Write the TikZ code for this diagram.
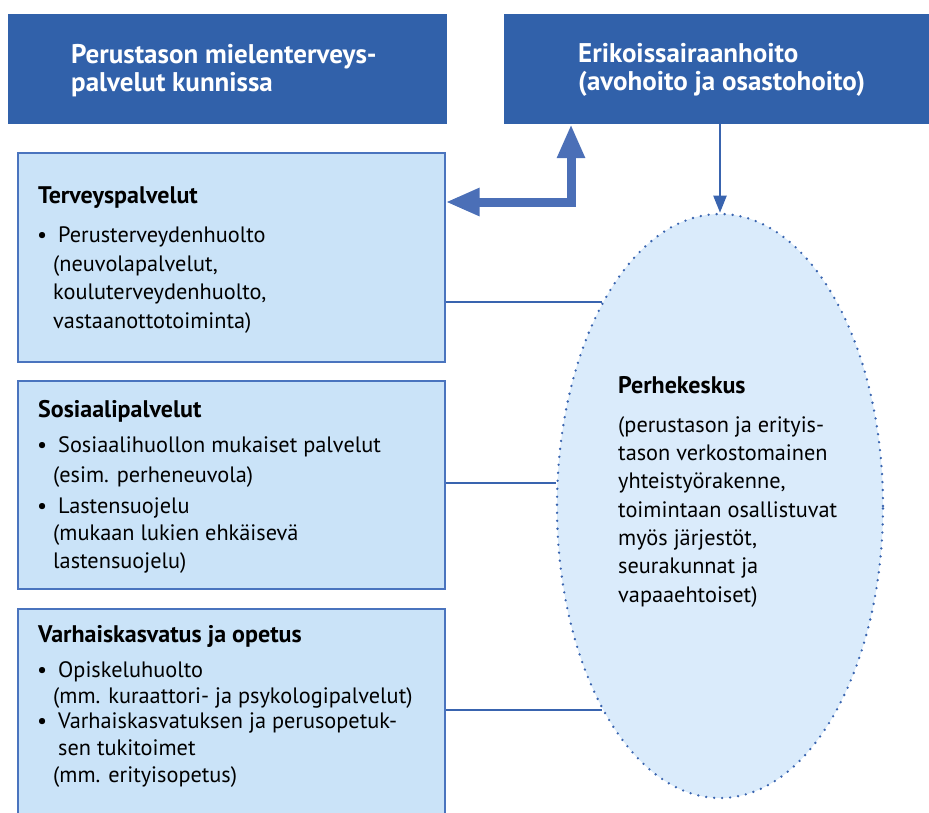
\documentclass[tikz,border=0pt]{standalone}
\usepackage{fontspec}
\setmainfont{PT Sans}
\usetikzlibrary{shapes.geometric,arrows.meta,positioning,calc}

\definecolor{darkblue}{HTML}{3161AA}
\definecolor{boxfill}{HTML}{CAE3F8}
\definecolor{boxline}{HTML}{4A74BE}
\definecolor{ellfill}{HTML}{DAEBFB}
\definecolor{arrowblue}{HTML}{4B6FB7}
\definecolor{linkblue}{HTML}{3964AF}

\newcommand{\bul}{\llap{\textbullet\hspace{6pt}}\hspace{5pt}}

\begin{document}
\begin{tikzpicture}[x=1pt, y=-1pt,
  headbox/.style={fill=darkblue, minimum height=110pt, inner sep=0pt},
  service/.style={draw=boxline, line width=1.2pt, fill=boxfill, minimum width=427pt, inner sep=0pt},
  headtxt/.style={anchor=base west, align=left, inner sep=0pt, text=white, font=\fontsize{27}{28}\selectfont\bfseries},
  boxhead/.style={anchor=base west, inner sep=0pt, font=\fontsize{24}{28}\selectfont\bfseries},
  boxitem/.style={anchor=base west, align=left, inner sep=0pt, font=\fontsize{22.3}{28.5}\selectfont},
  joinline/.style={draw=linkblue, line width=2.5pt},
  bigarrow/.style={draw=arrowblue, line width=9pt, line join=miter, {Triangle[length=34pt,width=26pt]}-{Triangle[length=34pt,width=26pt]}},
  thinarrow/.style={draw=linkblue, line width=2.2pt, -{Triangle[length=17pt,width=13pt]}}]
  \useasboundingbox (0,0) rectangle (929,812);

  % top level (base = last line)
  \node[headbox, minimum width=439pt] (perus) at (227.5,69) {};
  \node[headbox, minimum width=432pt] (erik) at (720,69) {};
  \node[headtxt] (perustxt) at (71,91) {Perustason mielenterveys-\\palvelut kunnissa};
  \node[headtxt] (eriktxt) at (578,90) {Erikoissairaanhoito\\(avohoito ja osastohoito)};

  % service boxes
  \node[service, minimum height=209pt] (terv) at (231.5,257.5) {};
  \node[service, minimum height=208pt] (sos) at (231.5,485) {};
  \node[service, minimum height=211pt] (varh) at (231.5,714.5) {};

  \node[ellipse, draw=linkblue, fill=ellfill, line width=2.6pt, dash pattern=on 0pt off 8pt, line cap=round,
        minimum width=326pt, minimum height=584pt, inner sep=0pt] (perhe) at (720,506) {};

  \node[boxhead] (tervhead) at (38,203) {Terveyspalvelut};
  \node[boxitem] (tervitem) at (53,328) {\bul Perusterveydenhuolto\\(neuvolapalvelut,\\kouluterveydenhuolto,\\vastaanottotoiminta)};

  \node[boxhead] (soshead) at (38,417) {Sosiaalipalvelut};
  \node[boxitem, font=\fontsize{22.3}{29.5}\selectfont] (sositem1) at (53,482) {\bul Sosiaalihuollon mukaiset palvelut\\(esim. perheneuvola)};
  \node[boxitem, font=\fontsize{22.3}{27.5}\selectfont] (sositem2) at (53,568) {\bul Lastensuojelu\\(mukaan lukien ehkäisevä\\lastensuojelu)};

  \node[boxhead] (varhhead) at (38,642) {Varhaiskasvatus ja opetus};
  \node[boxitem, font=\fontsize{22.3}{26}\selectfont] (varhitem1) at (53,703) {\bul Opiskeluhuolto\\(mm. kuraattori- ja psykologipalvelut)};
  \node[boxitem, font=\fontsize{22.3}{27}\selectfont] (varhitem2) at (53,782) {\bul Varhaiskasvatuksen ja perusopetuk-\\\hspace{5pt}sen tukitoimet\\(mm. erityisopetus)};

  % family centre
  \node[boxhead] (perhehead) at (618,393) {Perhekeskus};
  \node[boxitem, font=\fontsize{22.3}{28.33}\selectfont] (perheitem) at (618,602) {(perustason ja erityis-\\tason verkostomainen\\yhteistyörakenne,\\toimintaan osallistuvat\\myös järjestöt,\\seurakunnat ja\\vapaaehtoiset)};

  % connectors
  \coordinate (elbow) at (571,202);
  \draw[bigarrow] (erik.south -| elbow) -- (elbow) -- (elbow -| terv.east);
  \draw[thinarrow] (erik.south) -- (perhe.north);
  \draw[joinline] (perhe.120.2) -- (perhe.120.2 -| terv.east);
  \draw[joinline] (perhe.172) -- (perhe.172 -| sos.east);
  \draw[joinline] (perhe.240.7) -- (perhe.240.7 -| varh.east);
\end{tikzpicture}
\end{document}
